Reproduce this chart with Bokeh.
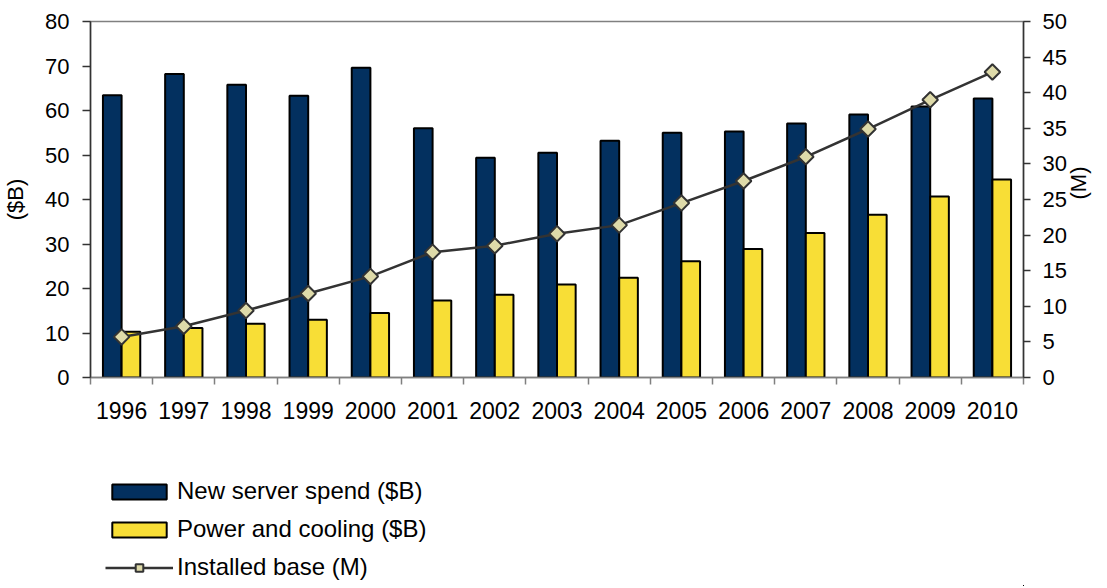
import numpy as np
from bokeh.plotting import figure
from bokeh.layouts import column
from bokeh.models import (Range1d, LinearAxis, FixedTicker, SingleIntervalTicker,
                          Legend, LegendItem, ColumnDataSource)
from bokeh.embed import file_html
from bokeh.resources import INLINE

years = ["1996", "1997", "1998", "1999", "2000", "2001", "2002", "2003",
         "2004", "2005", "2006", "2007", "2008", "2009", "2010"]
server_spend = [63.4, 68.2, 65.8, 63.3, 69.6, 56.0, 49.4, 50.5,
                53.2, 55.0, 55.3, 57.1, 59.1, 60.9, 62.7]
power_cooling = [10.3, 11.1, 12.1, 13.0, 14.5, 17.3, 18.6, 20.9,
                 22.4, 26.1, 28.9, 32.5, 36.6, 40.7, 44.5]
installed_base = [5.7, 7.2, 9.4, 11.8, 14.2, 17.6, 18.5, 20.2,
                  21.4, 24.5, 27.6, 31.0, 34.9, 39.0, 42.9]
series_labels = ["New server spend ($B)", "Power and cooling ($B)", "Installed base (M)"]

FONT = "Liberation Sans"
NAVY = "#03305f"
YELLOW = "#f8de36"
MARK = "#dedaa9"
LINE = "#333333"
W = 1106

idx = np.arange(len(years))
src = ColumnDataSource(dict(idx=idx, x_a=idx - 0.15, x_b=idx + 0.15,
                            spend=server_spend, power=power_cooling,
                            base=installed_base))

p = figure(width=W, height=440, output_backend="svg", toolbar_location=None,
           x_range=Range1d(-0.5, len(years) - 0.5), y_range=Range1d(0, 80),
           min_border_left=89, min_border_right=83, min_border_top=21,
           min_border_bottom=63, x_axis_location=None, y_axis_location=None)
p.extra_y_ranges = {"m": Range1d(0, 50)}
p.outline_line_color = "#808080"
p.outline_line_width = 1.5
p.xgrid.visible = False
p.ygrid.visible = False

# axes
xaxis = LinearAxis(ticker=FixedTicker(ticks=list(idx), minor_ticks=list(idx - 0.5) + [len(years) - 0.5]),
                   major_label_overrides={int(i): y for i, y in zip(idx, years)})
xaxis.major_tick_out = 0
xaxis.major_tick_in = 0
xaxis.minor_tick_out = 7
xaxis.minor_tick_in = 0
xaxis.minor_tick_line_color = "#808080"
xaxis.axis_line_color = "#808080"
xaxis.axis_line_width = 1.5
xaxis.minor_tick_line_width = 1.5
xaxis.major_label_standoff = 17
xaxis.major_label_text_font = FONT
xaxis.major_label_text_font_size = "23px"
xaxis.major_label_text_color = "black"
p.add_layout(xaxis, "below")

yaxis = LinearAxis(ticker=SingleIntervalTicker(interval=10, num_minor_ticks=0),
                   axis_label="($B)")
yaxis.major_tick_out = 8
yaxis.major_tick_in = 0
yaxis.major_label_standoff = 13
yaxis.axis_label_standoff = 14
p.add_layout(yaxis, "left")

raxis = LinearAxis(y_range_name="m", ticker=SingleIntervalTicker(interval=5, num_minor_ticks=0),
                   axis_label="(M)", axis_label_orientation=np.pi / 2)
raxis.major_tick_out = 7
raxis.major_tick_in = 0
raxis.major_label_standoff = 12
raxis.axis_label_standoff = 9
p.add_layout(raxis, "right")

for ax in (yaxis, raxis):
    ax.axis_line_color = "#333333"
    ax.axis_line_width = 1.5
    ax.major_tick_line_color = "#333333"
    ax.major_tick_line_width = 1.5
    ax.major_label_text_font = FONT
    ax.major_label_text_font_size = "22px"
    ax.major_label_text_color = "black"
    ax.axis_label_text_font = FONT
    ax.axis_label_text_font_size = "22px"
    ax.axis_label_text_font_style = "normal"
    ax.axis_label_text_color = "black"

bar_a = dict(fill_color=NAVY, line_color="black", line_width=2)
bar_b = dict(fill_color=YELLOW, line_color="black", line_width=2)
line_kw = dict(line_color=LINE, line_width=2.5)
mark_kw = dict(marker="square", angle=np.pi / 4, size=11, fill_color=MARK,
               line_color=LINE, line_width=2)

p.vbar(x="x_a", top="spend", width=0.3, source=src, **bar_a)
p.vbar(x="x_b", top="power", width=0.3, source=src, **bar_b)
p.line(x="idx", y="base", source=src, **line_kw, y_range_name="m")
p.scatter(x="idx", y="base", source=src, **mark_kw, y_range_name="m")

# legend strip below the chart: same series and styles; its ranges lie far
# away from every value, so only the legend swatches are seen
lg = figure(width=W, height=146, output_backend="svg", toolbar_location=None,
            x_range=Range1d(-1000, -999), y_range=Range1d(1000, 1010),
            min_border_left=0, min_border_right=0, min_border_top=0,
            min_border_bottom=0, x_axis_location=None, y_axis_location=None)
lg.outline_line_color = None
lg.xgrid.visible = False
lg.ygrid.visible = False
la = lg.vbar(x="x_a", top="spend", width=0.3, source=src, **bar_a)
lb = lg.vbar(x="x_b", top="power", width=0.3, source=src, **bar_b)
ll = lg.line(x="idx", y="base", source=src, **line_kw)
lm = lg.scatter(x="idx", y="base", source=src, **mark_kw)

legend = Legend(items=[
    LegendItem(label=series_labels[0], renderers=[la]),
    LegendItem(label=series_labels[1], renderers=[lb]),
    LegendItem(label=series_labels[2], renderers=[ll, lm]),
], location=(15, 5), orientation="vertical")
legend.label_text_font = FONT
legend.label_text_font_size = "24px"
legend.label_text_color = "black"
legend.glyph_width = 68
legend.glyph_height = 19
legend.label_height = 27
legend.spacing = 10
legend.label_standoff = 4
legend.padding = 0
legend.margin = 0
legend.border_line_color = None
legend.background_fill_alpha = 0
lg.add_layout(legend, "center")

open("out.html", "w").write(file_html(column(p, lg, spacing=0), INLINE))
